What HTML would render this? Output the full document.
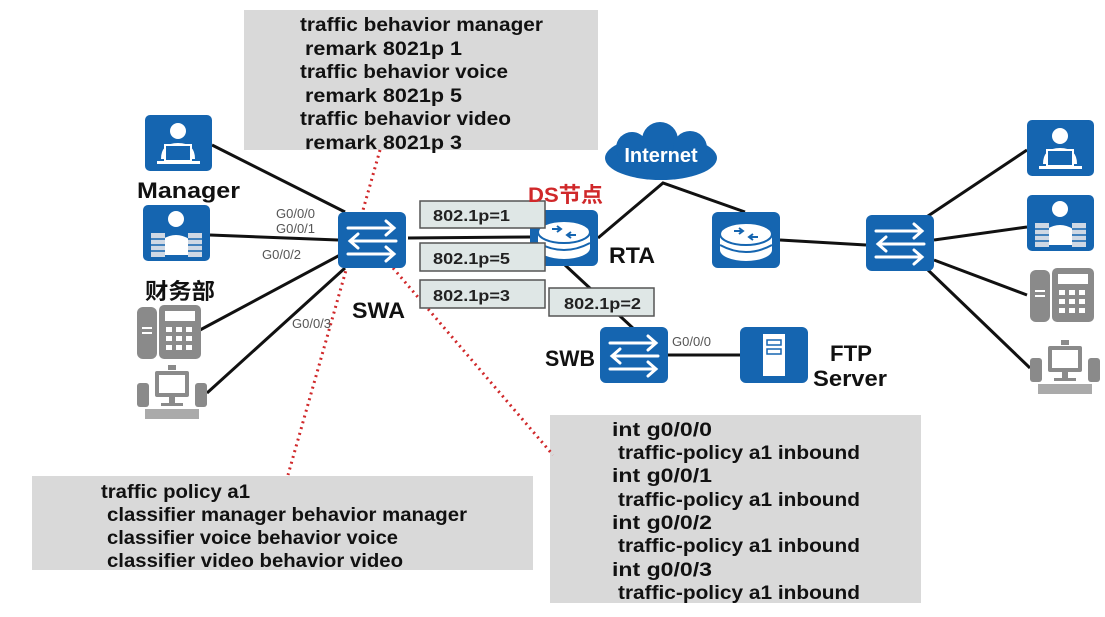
<!DOCTYPE html>
<html><head><meta charset="utf-8"><style>
html,body{margin:0;padding:0;background:#fff}
svg{display:block}
text{font-family:"Liberation Sans","Noto Sans CJK SC",sans-serif}
.b{font-weight:bold;font-size:19px;fill:#111}
.p{font-size:13px;fill:#555}
.L{font-weight:bold;font-size:22px;fill:#111}
</style></head><body>
<svg width="1105" height="617" viewBox="0 0 1105 617" xmlns="http://www.w3.org/2000/svg">
<defs>
<g id="sw">
<rect x="0" y="0" width="68" height="56" rx="6" fill="#1565b0"/>
<g stroke="#fff" stroke-width="3" fill="none" stroke-linecap="round">
<path d="M10 16H56M48 9L56 16L48 23"/>
<path d="M58 29H12M20 22L12 29L20 36"/>
<path d="M10 42H56M48 35L56 42L48 49"/>
</g></g>
<g id="rt">
<rect x="0" y="0" width="68" height="56" rx="6" fill="#1565b0"/>
<ellipse cx="34" cy="38" rx="26" ry="11" fill="#fff"/>
<rect x="8" y="22" width="52" height="16" fill="#fff"/>
<ellipse cx="34" cy="22" rx="26" ry="11" fill="#fff" stroke="#1565b0" stroke-width="2"/>
<path d="M22 19h9M37 25h9M27 16l4 3-4 3M41 22l-4 3 4 3" stroke="#1565b0" stroke-width="2" fill="none"/>
<path d="M8 33q26 14 52 0" stroke="#1565b0" stroke-width="2" fill="none"/>
</g>
<g id="mgr">
<rect x="0" y="0" width="67" height="56" rx="5" fill="#1565b0"/>
<circle cx="33" cy="16" r="8" fill="#fff"/>
<path d="M16 44q0-16 17-16q17 0 17 16z" fill="#fff"/>
<rect x="20" y="30" width="26" height="16" fill="#1565b0" stroke="#fff" stroke-width="2"/>
<rect x="12" y="46" width="43" height="3" fill="#fff"/>
</g>
<g id="fin">
<rect x="0" y="0" width="67" height="56" rx="5" fill="#1565b0"/>
<circle cx="33" cy="14" r="8" fill="#fff"/>
<path d="M20 50v-16q13-8 26 0v16z" fill="#fff"/>
<g fill="#cfd8e4"><rect x="8" y="28" width="14" height="24"/><rect x="45" y="28" width="14" height="24"/></g>
<g stroke="#1565b0" stroke-width="1.5"><path d="M8 34h14M8 40h14M8 46h14M45 34h14M45 40h14M45 46h14"/></g>
</g>
<g id="ph" fill="#8a8a8a">
<rect x="0" y="2" width="20" height="52" rx="6"/>
<rect x="22" y="0" width="42" height="54" rx="5"/>
<rect x="28" y="6" width="30" height="10" fill="#fff"/>
<g fill="#fff"><rect x="29" y="22" width="6" height="5"/><rect x="39" y="22" width="6" height="5"/><rect x="49" y="22" width="6" height="5"/><rect x="29" y="31" width="6" height="5"/><rect x="39" y="31" width="6" height="5"/><rect x="49" y="31" width="6" height="5"/><rect x="29" y="40" width="6" height="5"/><rect x="39" y="40" width="6" height="5"/><rect x="49" y="40" width="6" height="5"/><rect x="5" y="22" width="10" height="2"/><rect x="5" y="27" width="10" height="2"/></g>
</g>
<g id="pc" fill="#8a8a8a">
<rect x="0" y="18" width="12" height="24" rx="3"/>
<rect x="58" y="18" width="12" height="24" rx="3"/>
<rect x="18" y="6" width="34" height="26" rx="2"/>
<rect x="22" y="10" width="26" height="18" fill="#fff"/>
<rect x="31" y="0" width="8" height="5"/>
<rect x="32" y="32" width="6" height="6"/><rect x="24" y="38" width="22" height="3"/>
<rect x="8" y="44" width="54" height="10" fill="#aaa"/>
</g>
</defs>

<rect x="244" y="10" width="354" height="140" fill="#d9d9d9"/>
<text class="b" x="300" y="31" textLength="243" lengthAdjust="spacingAndGlyphs">traffic behavior manager</text>
<text class="b" x="305" y="55" textLength="157" lengthAdjust="spacingAndGlyphs">remark 8021p 1</text>
<text class="b" x="300" y="78" textLength="208" lengthAdjust="spacingAndGlyphs">traffic behavior voice</text>
<text class="b" x="305" y="102" textLength="157" lengthAdjust="spacingAndGlyphs">remark 8021p 5</text>
<text class="b" x="300" y="125" textLength="211" lengthAdjust="spacingAndGlyphs">traffic behavior video</text>
<text class="b" x="305" y="149" textLength="157" lengthAdjust="spacingAndGlyphs">remark 8021p 3</text>

<rect x="32" y="476" width="501" height="94" fill="#d9d9d9"/>
<text class="b" x="101" y="498" textLength="149" lengthAdjust="spacingAndGlyphs">traffic policy a1</text>
<text class="b" x="107" y="521" textLength="360" lengthAdjust="spacingAndGlyphs">classifier manager behavior manager</text>
<text class="b" x="107" y="544" textLength="291" lengthAdjust="spacingAndGlyphs">classifier voice behavior voice</text>
<text class="b" x="107" y="567" textLength="296" lengthAdjust="spacingAndGlyphs">classifier video behavior video</text>

<rect x="550" y="415" width="371" height="188" fill="#d9d9d9"/>
<g class="b">
<text class="b" x="612" y="436" textLength="100" lengthAdjust="spacingAndGlyphs">int g0/0/0</text>
<text class="b" x="618" y="459" textLength="242" lengthAdjust="spacingAndGlyphs">traffic-policy a1 inbound</text>
<text class="b" x="612" y="482" textLength="100" lengthAdjust="spacingAndGlyphs">int g0/0/1</text>
<text class="b" x="618" y="506" textLength="242" lengthAdjust="spacingAndGlyphs">traffic-policy a1 inbound</text>
<text class="b" x="612" y="529" textLength="100" lengthAdjust="spacingAndGlyphs">int g0/0/2</text>
<text class="b" x="618" y="552" textLength="242" lengthAdjust="spacingAndGlyphs">traffic-policy a1 inbound</text>
<text class="b" x="612" y="576" textLength="100" lengthAdjust="spacingAndGlyphs">int g0/0/3</text>
<text class="b" x="618" y="599" textLength="242" lengthAdjust="spacingAndGlyphs">traffic-policy a1 inbound</text>
</g>

<g stroke="#111" stroke-width="3" fill="none">
<path d="M212 145L345 212"/>
<path d="M210 235L338 240"/>
<path d="M200 330L340 255"/>
<path d="M207 393L345 268"/>
<path d="M408 238L530 237"/>
<path d="M598 238L663 183L745 212"/>
<path d="M780 240L866 245"/>
<path d="M565 265L635 330"/>
<path d="M668 355L740 355"/>
<path d="M925 218L1027 150"/>
<path d="M934 240L1027 227"/>
<path d="M934 260L1027 295"/>
<path d="M928 270L1030 368"/>
</g>
<g stroke="#d0282a" stroke-width="3" stroke-dasharray="2 4" fill="none">
<path d="M380 150L288 475"/>
<path d="M393 268L553 455"/>
</g>

<use href="#mgr" x="145" y="115"/>
<use href="#fin" x="143" y="205"/>
<use href="#ph" x="137" y="305"/>
<use href="#pc" x="137" y="365"/>
<use href="#sw" x="338" y="212"/>
<use href="#rt" x="530" y="210"/>
<use href="#rt" x="712" y="212"/>
<use href="#sw" x="866" y="215"/>
<use href="#sw" x="600" y="327"/>
<g>
<rect x="740" y="327" width="68" height="56" rx="6" fill="#1565b0"/>
<rect x="763" y="334" width="22" height="42" fill="#fff"/>
<rect x="767" y="340" width="14" height="5" fill="none" stroke="#1565b0" stroke-width="1.5"/>
<rect x="767" y="349" width="14" height="5" fill="none" stroke="#1565b0" stroke-width="1.5"/>
</g>
<use href="#mgr" x="1027" y="120"/>
<use href="#fin" x="1027" y="195"/>
<use href="#ph" x="1030" y="268"/>
<use href="#pc" x="1030" y="340"/>

<g fill="#1565b0">
<ellipse cx="661" cy="158" rx="56" ry="22"/>
<circle cx="632" cy="148" r="16"/><circle cx="660" cy="140" r="18"/><circle cx="690" cy="148" r="17"/>
</g>
<text x="661" y="162" text-anchor="middle" style="font-weight:bold;font-size:20px;fill:#fff">Internet</text>

<g fill="#dfe7e6" stroke="#555" stroke-width="1.5">
<rect x="420" y="201" width="125" height="27"/>
<rect x="420" y="243" width="125" height="28"/>
<rect x="420" y="280" width="125" height="28"/>
<rect x="549" y="288" width="105" height="28"/>
</g>
<g style="font-weight:bold;font-size:16px;fill:#222">
<text x="433" y="221" textLength="77" lengthAdjust="spacingAndGlyphs">802.1p=1</text>
<text x="433" y="264" textLength="77" lengthAdjust="spacingAndGlyphs">802.1p=5</text>
<text x="433" y="301" textLength="77" lengthAdjust="spacingAndGlyphs">802.1p=3</text>
<text x="564" y="309" textLength="77" lengthAdjust="spacingAndGlyphs">802.1p=2</text>
</g>

<text class="L" x="137" y="198" textLength="103" lengthAdjust="spacingAndGlyphs">Manager</text>
<text class="L" x="145" y="299" textLength="70" lengthAdjust="spacingAndGlyphs">财务部</text>
<text class="L" x="352" y="318" textLength="53" lengthAdjust="spacingAndGlyphs">SWA</text>
<text class="L" x="609" y="263" textLength="46" lengthAdjust="spacingAndGlyphs">RTA</text>
<text x="528" y="202" textLength="75" lengthAdjust="spacingAndGlyphs" style="font-weight:bold;font-size:21px;fill:#d0282a">DS节点</text>
<text class="L" x="545" y="366" textLength="50" lengthAdjust="spacingAndGlyphs">SWB</text>
<text class="L" x="830" y="361" textLength="42" lengthAdjust="spacingAndGlyphs">FTP</text>
<text class="L" x="813" y="386" textLength="74" lengthAdjust="spacingAndGlyphs">Server</text>
<text class="p" x="276" y="218">G0/0/0</text>
<text class="p" x="276" y="233">G0/0/1</text>
<text class="p" x="262" y="259">G0/0/2</text>
<text class="p" x="292" y="328">G0/0/3</text>
<text class="p" x="672" y="346">G0/0/0</text>
</svg>
</body></html>
